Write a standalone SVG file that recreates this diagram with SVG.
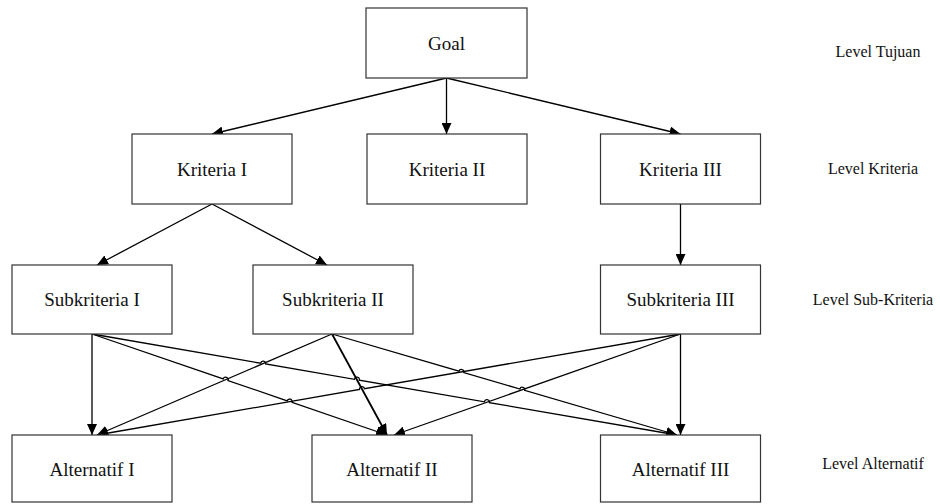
<svg xmlns="http://www.w3.org/2000/svg" width="940" height="504" viewBox="0 0 940 504">
  <style>
    .box { fill: #ffffff; stroke: #333333; stroke-width: 1.2; }
    .lbl { font-family: "Liberation Serif", "Times New Roman", serif; font-size: 19px; fill: #111111; text-anchor: middle; }
    .lvl { font-family: "Liberation Serif", "Times New Roman", serif; font-size: 16px; fill: #111111; text-anchor: middle; }
    .edge { fill: none; stroke: #000000; stroke-width: 1.3; marker-end: url(#arrow); }
  </style>
  <defs>
    <marker id="arrow" markerUnits="userSpaceOnUse" markerWidth="12" markerHeight="10" refX="11" refY="5" orient="auto">
      <path d="M0,0 L11,5 L0,10 Z" fill="#000000"/>
    </marker>
  </defs>

  <!-- connectors (arcs are line jumps over crossing connectors) -->
  <g id="connectors">
    <path class="edge" d="M446.5,78 L212,134"/>
    <path class="edge" d="M446.5,78 L446.5,134"/>
    <path class="edge" d="M446.5,78 L680.5,134"/>
    <path class="edge" d="M212,204 L97,265"/>
    <path class="edge" d="M212,204 L327,265"/>
    <path class="edge" d="M680.5,204 L680.5,265"/>

    <!-- Subkriteria I -->
    <path class="edge" d="M92,334 L92,435"/>
    <path class="edge" d="M92,334 L223.2,378.9 A2.5,2.5 0 0 1 228,380.5 L287.2,400.8 A2.5,2.5 0 0 1 292,402.4 L387,435"/>
    <path class="edge" d="M92,334 L260.7,363.2 A2.5,2.5 0 0 1 265.7,364 L354.4,379.3 A2.5,2.5 0 0 1 359.4,380.1 L484.4,401.8 A2.5,2.5 0 0 1 489.4,402.6 L677,435"/>

    <!-- Subkriteria II -->
    <path class="edge" d="M332,334 L97,435"/>
    <path class="edge" style="stroke-width:1.8" d="M332,334 L387,435"/>
    <path class="edge" d="M332,334 L459,371.2 A2.5,2.5 0 0 1 463.8,372.6 L519.9,389 A2.5,2.5 0 0 1 524.7,390.4 L677,435"/>

    <!-- Subkriteria III -->
    <path class="edge" d="M680.5,334 L364.5,388.7 A2.5,2.5 0 0 0 359.5,389.5 L97,435"/>
    <path class="edge" d="M680.5,334 L394,435"/>
    <path class="edge" d="M680.5,334 L680.5,435"/>
  </g>

  <g id="goal">
    <rect class="box" x="366" y="8" width="161" height="70"/>
    <text class="lbl" x="446.5" y="50">Goal</text>
  </g>

  <g id="kriteria-1">
    <rect class="box" x="132" y="134" width="160" height="70"/>
    <text class="lbl" x="212" y="175.5">Kriteria I</text>
  </g>
  <g id="kriteria-2">
    <rect class="box" x="367" y="134" width="160" height="70"/>
    <text class="lbl" x="447" y="175.5">Kriteria II</text>
  </g>
  <g id="kriteria-3">
    <rect class="box" x="600.5" y="134" width="160" height="70"/>
    <text class="lbl" x="680.5" y="175.5">Kriteria III</text>
  </g>

  <g id="subkriteria-1">
    <rect class="box" x="12" y="265" width="160" height="69"/>
    <text class="lbl" x="92" y="306">Subkriteria I</text>
  </g>
  <g id="subkriteria-2">
    <rect class="box" x="253" y="265" width="160" height="69"/>
    <text class="lbl" x="333" y="306">Subkriteria II</text>
  </g>
  <g id="subkriteria-3">
    <rect class="box" x="600.5" y="265" width="160" height="69"/>
    <text class="lbl" x="680.5" y="306">Subkriteria III</text>
  </g>

  <g id="alternatif-1">
    <rect class="box" x="12" y="435" width="160" height="67"/>
    <text class="lbl" x="92" y="475.5">Alternatif I</text>
  </g>
  <g id="alternatif-2">
    <rect class="box" x="312" y="435" width="160" height="67"/>
    <text class="lbl" x="392" y="475.5">Alternatif II</text>
  </g>
  <g id="alternatif-3">
    <rect class="box" x="600.5" y="435" width="160" height="67"/>
    <text class="lbl" x="680.5" y="475.5">Alternatif III</text>
  </g>

  <!-- level captions -->
  <g id="levels">
    <text class="lvl" x="878" y="57">Level Tujuan</text>
    <text class="lvl" x="873" y="174">Level Kriteria</text>
    <text class="lvl" x="873" y="305">Level Sub-Kriteria</text>
    <text class="lvl" x="873" y="469">Level Alternatif</text>
  </g>
</svg>
